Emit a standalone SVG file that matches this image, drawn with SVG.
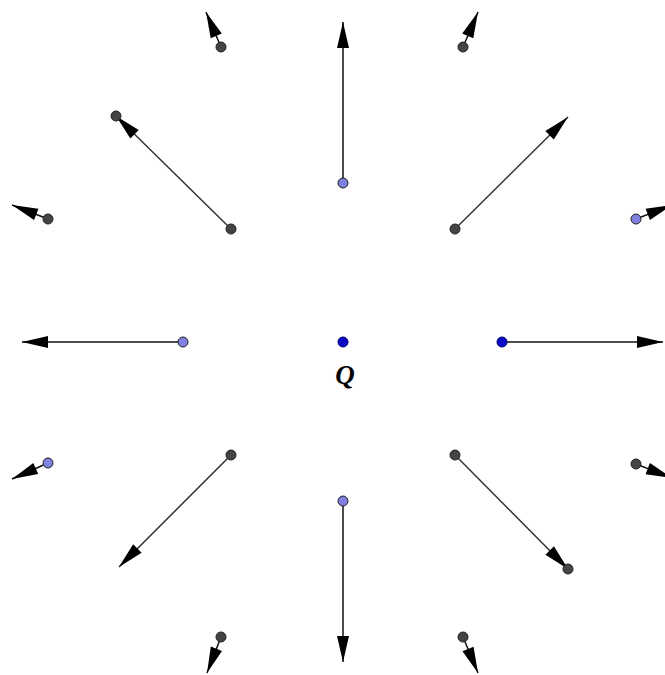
<svg xmlns="http://www.w3.org/2000/svg" width="665" height="675" viewBox="0 0 665 675">
<style>
.c line{stroke:#111;stroke-width:1.5;marker-end:url(#ah)}
.c line.d{stroke:#333}
.p{stroke:#222;stroke-width:1}
.g{fill:#444}
.v{fill:#8080e0}
.b{fill:#0a0ac8;stroke:#00006a}
.lbl{font-family:"Liberation Serif",serif;font-weight:bold;font-style:italic;font-size:27px;fill:#000}
</style>
<defs>
<marker id="ah" markerUnits="userSpaceOnUse" markerWidth="30" markerHeight="16" viewBox="-27 -8 30 16" refX="0" refY="0" orient="auto">
<path d="M0,0 L-26,-6 L-26,6 Z" fill="#000"/>
</marker>
</defs>
<rect width="665" height="675" fill="#fff"/>
<g class="c" id="connectors">
<line x1="343" y1="183" x2="343" y2="22"/>
<line x1="343" y1="501" x2="343" y2="662"/>
<line x1="183" y1="342" x2="22" y2="342"/>
<line x1="502" y1="342" x2="663" y2="342"/>
<line class="d" x1="231" y1="229" x2="116" y2="116"/>
<line class="d" x1="455" y1="229" x2="568" y2="117"/>
<line class="d" x1="231" y1="455" x2="119" y2="567"/>
<line class="d" x1="455" y1="455" x2="568" y2="569"/>
<line x1="221" y1="47" x2="206" y2="12"/>
<line x1="463" y1="47" x2="478" y2="12"/>
<line x1="48" y1="219" x2="12" y2="205"/>
<line x1="636" y1="219" x2="672" y2="205"/>
<line x1="48" y1="463" x2="12" y2="479"/>
<line x1="636" y1="464" x2="672" y2="478"/>
<line x1="221" y1="637" x2="207" y2="673"/>
<line x1="463" y1="637" x2="478" y2="673"/>
</g>
<g id="Q"><circle class="p b" cx="343" cy="342" r="5"/><text class="lbl" x="345" y="384" text-anchor="middle">Q</text></g>
<g id="pR"><circle class="p b" cx="502" cy="342" r="5"/></g>
<g id="pT"><circle class="p v" cx="343" cy="183" r="5"/></g>
<g id="pB"><circle class="p v" cx="343" cy="501" r="5"/></g>
<g id="pL"><circle class="p v" cx="183" cy="342" r="5"/></g>
<g id="pTL"><circle class="p g" cx="231" cy="229" r="5"/></g>
<g id="pTL2"><circle class="p g" cx="116" cy="116" r="5"/></g>
<g id="pTR"><circle class="p g" cx="455" cy="229" r="5"/></g>
<g id="pBL"><circle class="p g" cx="231" cy="455" r="5"/></g>
<g id="pBR"><circle class="p g" cx="455" cy="455" r="5"/></g>
<g id="pBR2"><circle class="p g" cx="568" cy="569" r="5"/></g>
<g id="s1"><circle class="p g" cx="221" cy="47" r="5"/></g>
<g id="s2"><circle class="p g" cx="463" cy="47" r="5"/></g>
<g id="s3"><circle class="p g" cx="48" cy="219" r="5"/></g>
<g id="s4"><circle class="p v" cx="636" cy="219" r="5"/></g>
<g id="s5"><circle class="p v" cx="48" cy="463" r="5"/></g>
<g id="s6"><circle class="p g" cx="636" cy="464" r="5"/></g>
<g id="s7"><circle class="p g" cx="221" cy="637" r="5"/></g>
<g id="s8"><circle class="p g" cx="463" cy="637" r="5"/></g>
</svg>
